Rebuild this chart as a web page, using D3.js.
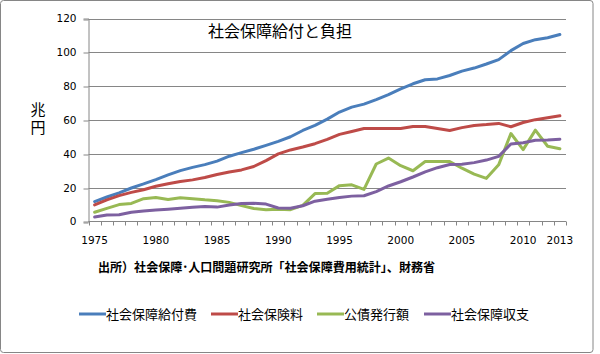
<!DOCTYPE html>
<html lang="ja">
<head>
<meta charset="UTF-8">
<title>社会保障給付と負担</title>
<script src="https://d3js.org/d3.v7.min.js"></script>
<style>
  body { margin: 0; background: #fff; }
  svg text { font-family: "Noto Sans CJK JP", sans-serif; fill: #000; }
</style>
</head>
<body>
<div id="chart"></div>
<script>
// years on the category axis
const years = d3.range(1975, 2014);
const tickYears = [1975, 1980, 1985, 1990, 1995, 2000, 2005, 2010, 2013];
const yTicks = [0, 20, 40, 60, 80, 100, 120];

// series (兆円)
const benefits = [11.8, 14.5, 16.9, 19.8, 22.2, 24.8, 27.6, 30.1, 32.0, 33.6,
  35.7, 38.6, 40.7, 42.7, 45.0, 47.4, 50.1, 53.8, 56.8, 60.5,
  64.7, 67.6, 69.4, 72.1, 75.0, 78.4, 81.4, 83.8, 84.3, 86.3,
  88.9, 90.7, 93.1, 95.7, 101.0, 105.2, 107.5, 108.6, 110.5];
const premiums = [9.8, 12.8, 15.3, 17.2, 18.8, 20.8, 22.3, 23.6, 24.6, 26.0,
  27.8, 29.3, 30.5, 32.5, 36.0, 40.0, 42.3, 44.0, 46.0, 48.5,
  51.5, 53.2, 55.0, 55.0, 55.0, 55.0, 56.2, 56.2, 55.0, 53.8,
  55.5, 56.8, 57.3, 58.0, 56.0, 58.5, 60.2, 61.3, 62.5];
const bonds = [5.5, 7.8, 10.0, 10.7, 13.5, 14.2, 13.0, 14.0, 13.5, 12.8,
  12.3, 11.3, 9.4, 7.7, 7.0, 7.3, 7.0, 9.5, 16.5, 16.7,
  21.2, 21.7, 19.0, 34.0, 37.5, 33.0, 30.0, 35.5, 35.5, 35.5,
  31.5, 28.0, 25.5, 33.5, 52.0, 42.5, 54.0, 44.5, 43.0];
const balance = [2.6, 3.8, 4.0, 5.5, 6.2, 6.8, 7.3, 7.9, 8.4, 8.8,
  8.5, 9.8, 10.7, 10.8, 10.3, 8.0, 7.8, 9.3, 12.0, 13.2,
  14.2, 15.0, 15.2, 17.7, 21.0, 23.5, 26.3, 29.3, 31.8, 33.7,
  33.8, 34.8, 36.3, 38.5, 45.8, 46.6, 48.0, 48.2, 48.6];

const seriesNames = ["社会保障給付費", "社会保険料", "公債発行額", "社会保障収支"];
const seriesColors = ["#4a7ebb", "#be4b48", "#98b954", "#7d60a0"];
const seriesValues = [benefits, premiums, bonds, balance];

const W = 600, H = 354;
const plot = { left: 88.5, right: 566, top: 18.5, bottom: 221.5 };

const svg = d3.select("#chart").append("svg")
  .attr("width", W).attr("height", H);

// outer frame
svg.append("rect")
  .attr("x", 0.5).attr("y", 0.5)
  .attr("width", 592.5).attr("height", 352)
  .attr("rx", 3)
  .attr("fill", "#fff")
  .attr("stroke", "#868686")
  .attr("stroke-width", 1);

const x = d3.scaleBand().domain(years).range([plot.left, plot.right]).padding(0);
const y = d3.scaleLinear().domain([0, 120]).range([plot.bottom, plot.top]);

// gridlines
svg.append("g")
  .selectAll("line")
  .data(yTicks.filter(d => d > 0))
  .join("line")
  .attr("x1", plot.left).attr("x2", plot.right)
  .attr("y1", d => Math.round(y(d)) + 0.5).attr("y2", d => Math.round(y(d)) + 0.5)
  .attr("stroke", "#868686").attr("stroke-width", 1);

// y axis
const yAxis = svg.append("g")
  .attr("transform", `translate(${plot.left},0)`)
  .call(d3.axisLeft(y).tickValues(yTicks).tickSize(5).tickPadding(7));
yAxis.select(".domain").attr("stroke", "#868686");
yAxis.selectAll(".tick line").attr("stroke", "#868686")
  .attr("transform", (d) => `translate(0,${Math.round(y(d)) + 0.5 - y(d)})`);
yAxis.selectAll(".tick text")
  .style("font-family", "'DejaVu Sans', sans-serif")
  .style("font-size", "10.5px");

// x axis: ticks between categories, labels at selected years
const bounds = years.map(d => x(d)).concat([plot.right]);
const xg = svg.append("g");
xg.append("line")
  .attr("x1", plot.left).attr("x2", plot.right)
  .attr("y1", plot.bottom).attr("y2", plot.bottom)
  .attr("stroke", "#868686");
xg.selectAll("line.tk")
  .data(bounds)
  .join("line")
  .attr("class", "tk")
  .attr("x1", d => Math.round(d) + 0.5).attr("x2", d => Math.round(d) + 0.5)
  .attr("y1", plot.bottom).attr("y2", plot.bottom + 4)
  .attr("stroke", "#868686");
xg.selectAll("text")
  .data(tickYears)
  .join("text")
  .attr("x", d => x(d) + x.bandwidth() / 2)
  .attr("y", 244)
  .attr("text-anchor", "middle")
  .style("font-family", "'DejaVu Sans', sans-serif")
  .style("font-size", "10.5px")
  .text(d => d);

// lines
const line = d3.line()
  .x((d, i) => x(years[i]) + x.bandwidth() / 2)
  .y(d => y(d));

svg.append("g")
  .selectAll("path")
  .data(seriesValues)
  .join("path")
  .attr("d", d => line(d))
  .attr("fill", "none")
  .attr("stroke", (d, i) => seriesColors[i])
  .attr("stroke-width", 3)
  .attr("stroke-linejoin", "round")
  .attr("stroke-linecap", "round");

// title
svg.append("text")
  .attr("x", 280).attr("y", 37)
  .attr("text-anchor", "middle")
  .style("font-size", "16px")
  .text("社会保障給付と負担");

// y unit label, vertical
svg.append("text")
  .attr("x", 38).attr("y", 102)
  .style("font-size", "15px")
  .style("writing-mode", "vertical-rl")
  .style("letter-spacing", "3px")
  .text("兆円");

// source
svg.append("text")
  .attr("x", 98).attr("y", 272)
  .attr("textLength", 337)
  .attr("lengthAdjust", "spacingAndGlyphs")
  .style("font-size", "12.5px")
  .style("font-weight", "bold")
  .text("出所）社会保障･人口問題研究所「社会保障費用統計」、財務省");

// legend
const legendX = [79, 211, 317, 424];
const lg = svg.append("g")
  .selectAll("g")
  .data(seriesNames)
  .join("g")
  .attr("transform", (d, i) => `translate(${legendX[i]},314)`);
lg.append("line")
  .attr("x1", 0).attr("x2", 27)
  .attr("stroke", (d, i) => seriesColors[i])
  .attr("stroke-width", 3);
lg.append("text")
  .attr("x", 27).attr("y", 5)
  .style("font-size", "13px")
  .text(d => d);
</script>
</body>
</html>
